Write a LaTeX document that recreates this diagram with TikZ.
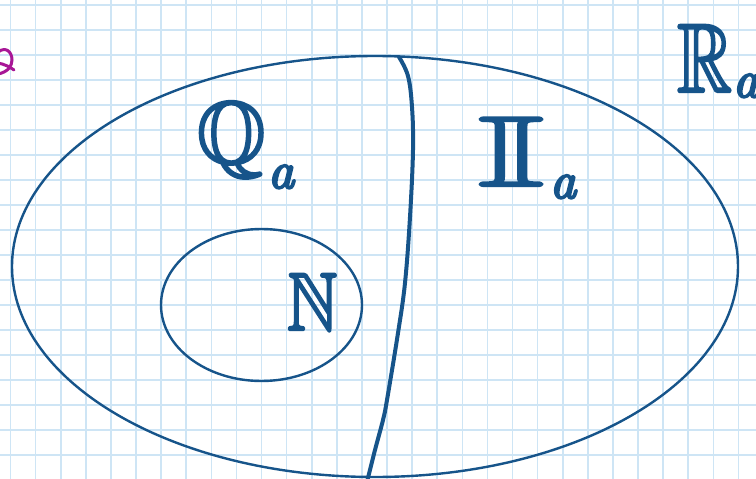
\documentclass[tikz,border=0pt]{standalone}
\usepackage{amssymb}
\usepackage{graphicx}
\definecolor{ink}{RGB}{22,84,138}
\definecolor{gridc}{RGB}{206,229,245}
\definecolor{pinkink}{RGB}{168,22,150}
\tikzset{
  inkline/.style={draw=ink,line cap=round,line join=round},
  setlabel/.style={text=ink,inner sep=0pt,outer sep=0pt,anchor=base west}
}
\newcommand{\fsz}[1]{\fontsize{#1}{#1}\selectfont}
\newcommand{\thk}[1]{\special{pdf:literal direct q 2 Tr 2.4 w 1 j 0.086 0.329 0.541 RG}#1\special{pdf:literal direct Q}}
\begin{document}
\begin{tikzpicture}[x=1pt,y=-1pt]
\useasboundingbox (0,0) rectangle (756,479);
\fill[white] (0,0) rectangle (756,479);
% grid
\foreach \i in {0,...,29}{
  \draw[gridc,line width=1.6pt] ({10.5+25.1*\i},0) -- ({10.5+25.1*\i},479);
}
\foreach \j in {0,...,19}{
  \draw[gridc,line width=1.6pt] (0,{5+25*\j}) -- (756,{5+25*\j});
}
% outer ellipse
\draw[inkline,line width=2.4pt] (375,266.5) ellipse [x radius=363, y radius=210.5];
% inner ellipse
\draw[inkline,line width=2.4pt] (261.5,305) ellipse [x radius=100.5, y radius=76];
% dividing curve
\draw[inkline,line width=4pt] plot[smooth,tension=0.6] coordinates
  {(399,57) (408,76) (412,107) (413,150) (410,217) (405,283) (398,333) (387,400) (383,420) (375,450) (367,482)};
% magenta fragment at left edge
\draw[pinkink,line width=3pt,line cap=round] (-2,52) .. controls (6,46) and (12,52) .. (12,60)
  .. controls (12,66) and (8,72) .. (-2,74);
\draw[pinkink,line width=3pt,line cap=round] (-2,63) .. controls (4,64) and (10,67) .. (14,70);
% labels
\node[setlabel] (q) at (197,163) {\thk{\fsz{88}$\mathbb{Q}$}};
\node[setlabel] (qa) at (268,188) {\thk{\fsz{52}\itshape a}};
\node[setlabel] (irr) at (477,186) {\thk{\scalebox{1.75}[1]{\fsz{100}$\mathbb{I}$}}};
\node[setlabel] (irra) at (550,198) {\thk{\fsz{52}\itshape a}};
\node[setlabel] (r) at (677,92) {\thk{\scalebox{0.78}[1]{\fsz{98}$\mathbb{R}$}}};
\node[setlabel] (ra) at (733,97) {\thk{\fsz{52}\itshape a}};
\node[setlabel] (n) at (287,330) {\thk{\scalebox{0.85}[1]{\fsz{82}$\mathbb{N}$}}};
\end{tikzpicture}
\end{document}
